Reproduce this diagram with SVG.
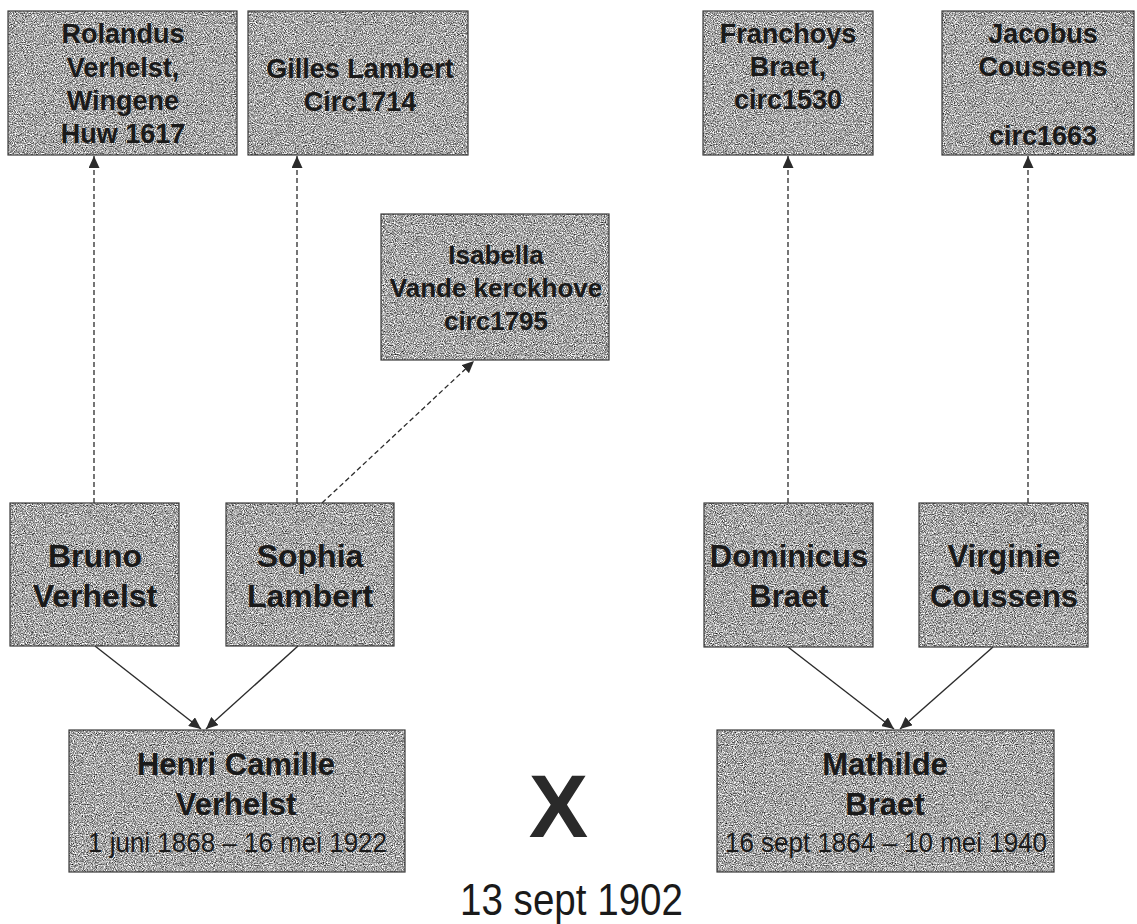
<svg xmlns="http://www.w3.org/2000/svg" width="1137" height="924" viewBox="0 0 1137 924">
  <defs>
    <filter id="grain" x="0" y="0" width="1" height="1" color-interpolation-filters="sRGB">
      <feTurbulence type="fractalNoise" baseFrequency="0.9" numOctaves="2" seed="7" result="n"/>
      <feColorMatrix in="n" type="matrix" values="1.6 0 0 0 -0.15  1.6 0 0 0 -0.15  1.6 0 0 0 -0.15  0 0 0 0 1" result="g"/>
      <feComposite in="g" in2="SourceGraphic" operator="in"/>
    </filter>
    <marker id="arrow" markerUnits="userSpaceOnUse" markerWidth="13" markerHeight="11" refX="12" refY="5.5" orient="auto">
      <path d="M0,0 L12,5.5 L0,11 Z" fill="#2b2b2b"/>
    </marker>
  </defs>
  <style>
    .bg { fill: #a3a3a3; filter: url(#grain); }
    .frame { fill: none; stroke: #3a3a3a; stroke-width: 1.2; }
    .t { font-family: "Liberation Sans", Arial, sans-serif; font-weight: bold; fill: #1a1a1a; text-anchor: middle; }
    .s27 { font-size: 27px; }
    .s26 { font-size: 26px; }
    .s32 { font-size: 32px; }
    .s31 { font-size: 31px; }
    .date { font-family: "Liberation Sans", Arial, sans-serif; font-weight: normal; font-size: 28px; fill: #1a1a1a; }
    .dash { fill: none; stroke: #2b2b2b; stroke-width: 1.3; stroke-dasharray: 5 3; }
    .solid { fill: none; stroke: #2b2b2b; stroke-width: 1.4; }
  </style>
  <rect width="1137" height="924" fill="#ffffff"/>

  <g id="connectors">
    <path class="dash" d="M94 503 V156" marker-end="url(#arrow)"/>
    <path class="dash" d="M297 503 V156" marker-end="url(#arrow)"/>
    <path class="dash" d="M322 503 L474 361" marker-end="url(#arrow)"/>
    <path class="dash" d="M788 503 V156" marker-end="url(#arrow)"/>
    <path class="dash" d="M1028 503 V156" marker-end="url(#arrow)"/>
    <path class="solid" d="M95 646 L201 729" marker-end="url(#arrow)"/>
    <path class="solid" d="M298 646 L206 729" marker-end="url(#arrow)"/>
    <path class="solid" d="M788 647 L894 729" marker-end="url(#arrow)"/>
    <path class="solid" d="M993 647 L900 729" marker-end="url(#arrow)"/>
  </g>

  <g id="rolandus">
    <rect class="bg" x="8" y="11" width="229" height="144"/>
    <rect class="frame" x="8" y="11" width="229" height="144"/>
    <text class="t s27" x="123" y="43">Rolandus</text>
    <text class="t s27" x="123" y="77">Verhelst,</text>
    <text class="t s27" x="123" y="110">Wingene</text>
    <text class="t s27" x="123" y="143">Huw 1617</text>
  </g>

  <g id="gilles">
    <rect class="bg" x="248" y="11" width="220" height="144"/>
    <rect class="frame" x="248" y="11" width="220" height="144"/>
    <text class="t s27" x="360" y="78">Gilles Lambert</text>
    <text class="t s27" x="360" y="111">Circ1714</text>
  </g>

  <g id="franchoys">
    <rect class="bg" x="703" y="11" width="170" height="144"/>
    <rect class="frame" x="703" y="11" width="170" height="144"/>
    <text class="t s27" x="788" y="43">Franchoys</text>
    <text class="t s27" x="788" y="76">Braet,</text>
    <text class="t s27" x="788" y="109">circ1530</text>
  </g>

  <g id="jacobus">
    <rect class="bg" x="942" y="11" width="192" height="144"/>
    <rect class="frame" x="942" y="11" width="192" height="144"/>
    <text class="t s27" x="1043" y="43">Jacobus</text>
    <text class="t s27" x="1043" y="76">Coussens</text>
    <text class="t s27" x="1043" y="145">circ1663</text>
  </g>

  <g id="isabella">
    <rect class="bg" x="381" y="214" width="228" height="146"/>
    <rect class="frame" x="381" y="214" width="228" height="146"/>
    <text class="t s26" x="496" y="264">Isabella</text>
    <text class="t s26" x="496" y="297">Vande kerckhove</text>
    <text class="t s26" x="496" y="330">circ1795</text>
  </g>

  <g id="bruno">
    <rect class="bg" x="10" y="503" width="169" height="143"/>
    <rect class="frame" x="10" y="503" width="169" height="143"/>
    <text class="t s32" x="95" y="567">Bruno</text>
    <text class="t s32" x="95" y="607">Verhelst</text>
  </g>

  <g id="sophia">
    <rect class="bg" x="226" y="503" width="168" height="143"/>
    <rect class="frame" x="226" y="503" width="168" height="143"/>
    <text class="t s32" x="310" y="567">Sophia</text>
    <text class="t s32" x="310" y="607">Lambert</text>
  </g>

  <g id="dominicus">
    <rect class="bg" x="704" y="503" width="169" height="144"/>
    <rect class="frame" x="704" y="503" width="169" height="144"/>
    <text class="t s31" x="789" y="567">Dominicus</text>
    <text class="t s31" x="789" y="607">Braet</text>
  </g>

  <g id="virginie">
    <rect class="bg" x="919" y="503" width="169" height="144"/>
    <rect class="frame" x="919" y="503" width="169" height="144"/>
    <text class="t s31" x="1004" y="567">Virginie</text>
    <text class="t s31" x="1004" y="607">Coussens</text>
  </g>

  <g id="henri">
    <rect class="bg" x="69" y="730" width="336" height="142"/>
    <rect class="frame" x="69" y="730" width="336" height="142"/>
    <text class="t s31" x="236" y="775">Henri Camille</text>
    <text class="t s31" x="236" y="815">Verhelst</text>
    <text class="date" x="88" y="852" textLength="299" lengthAdjust="spacingAndGlyphs">1 juni 1868 – 16 mei 1922</text>
  </g>

  <g id="mathilde">
    <rect class="bg" x="717" y="730" width="337" height="142"/>
    <rect class="frame" x="717" y="730" width="337" height="142"/>
    <text class="t s31" x="885" y="775">Mathilde</text>
    <text class="t s31" x="885" y="815">Braet</text>
    <text class="date" x="725" y="852" textLength="322" lengthAdjust="spacingAndGlyphs">16 sept 1864 – 10 mei 1940</text>
  </g>

  <g id="marriage">
    <text x="558.5" y="837" font-family="Liberation Sans, Arial, sans-serif" font-weight="bold" font-size="89" fill="#2a2a2a" text-anchor="middle">X</text>
    <text x="460" y="915" font-family="Liberation Sans, Arial, sans-serif" font-size="44" fill="#1a1a1a" textLength="223" lengthAdjust="spacingAndGlyphs">13 sept 1902</text>
  </g>
</svg>
